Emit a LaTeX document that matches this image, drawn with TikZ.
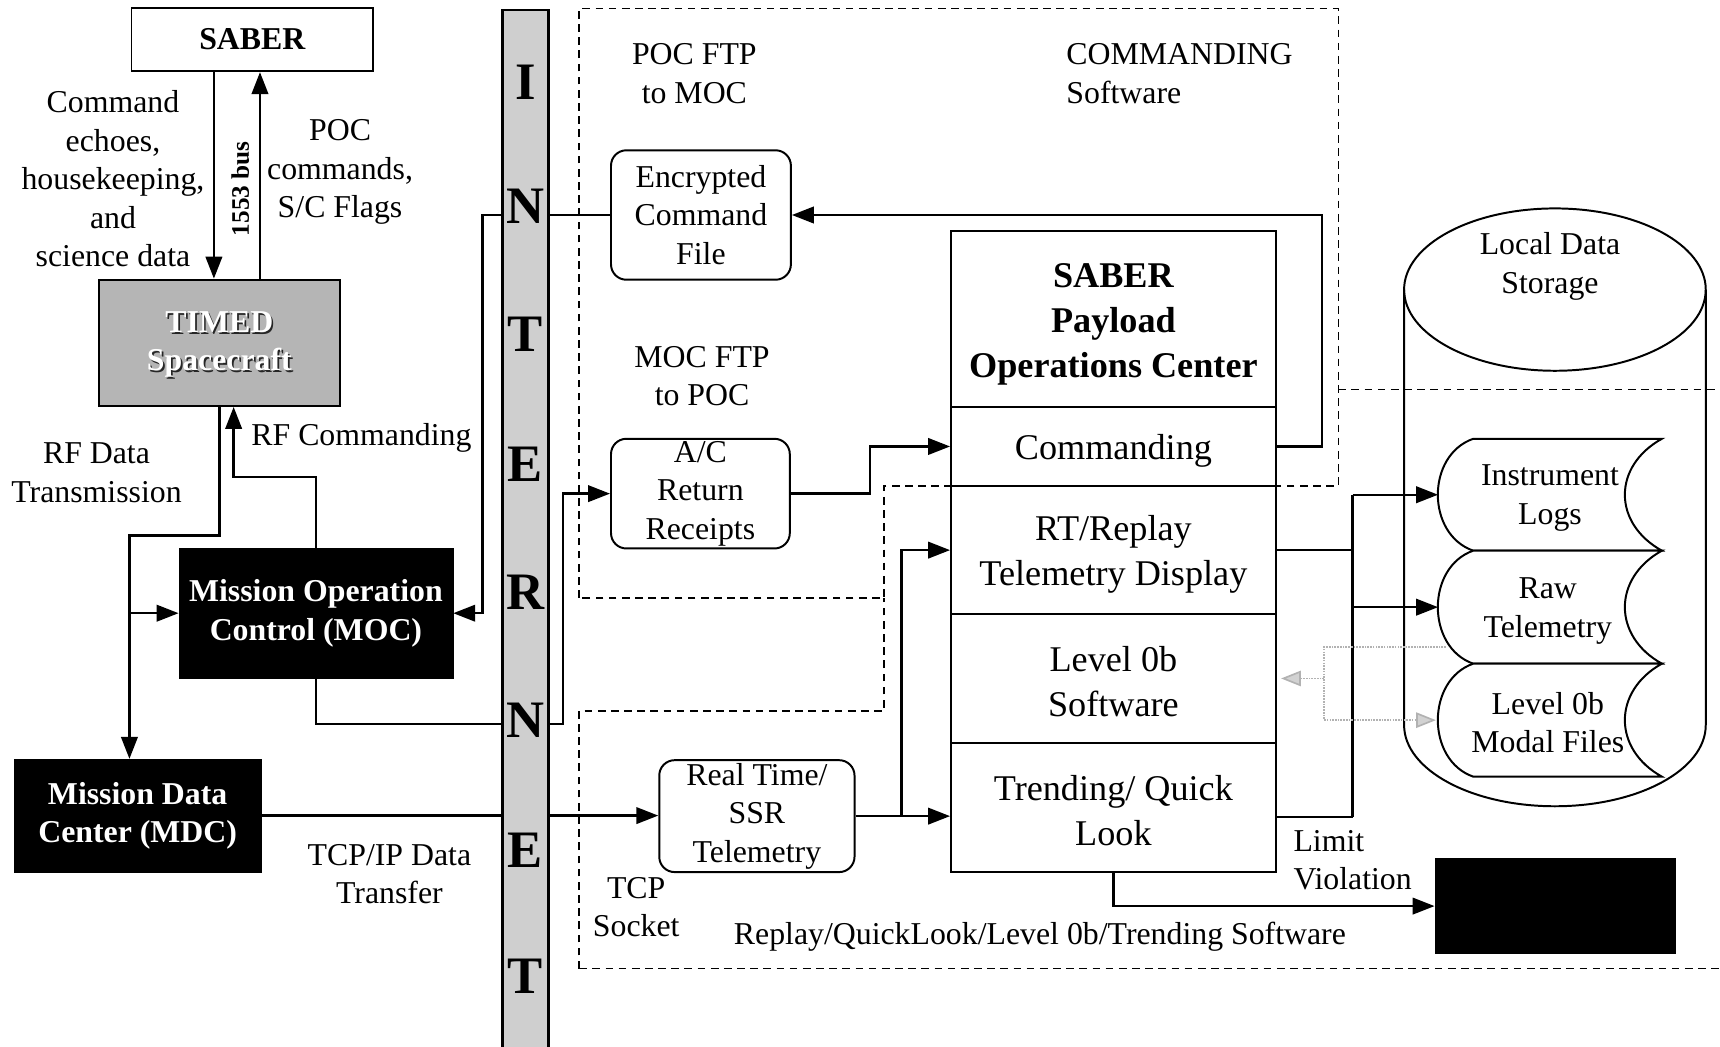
\documentclass[tikz,border=0pt]{standalone}
\usepackage{fontspec}
\setmainfont{Liberation Serif}
\usetikzlibrary{arrows.meta}
\begin{document}
\begin{tikzpicture}[x=1pt,y=-1pt,
  txt/.style={font=\fontsize{29}{35}\selectfont, align=center, inner sep=0pt},
  box/.style={draw, line width=1.5pt, inner sep=0pt},
  blk/.style={draw, fill=black, text=white, inner sep=0pt, font=\bfseries\fontsize{29}{35}\selectfont, align=center},
  rbox/.style={draw, line width=1.8pt, rounded corners=14pt, inner sep=0pt, font=\fontsize{29}{35}\selectfont, align=center},
  sec/.style={draw, line width=1.8pt, inner sep=0pt, minimum width=296pt, font=\fontsize{33}{41}\selectfont, align=center},
  conn/.style={line width=2.2pt},
  arr/.style={line width=2.2pt, -{Triangle[length=20pt,width=15pt]}},
  garr/.style={gray!60, line width=1.5pt, densely dotted, -{Triangle[length=18pt,width=14pt,fill=gray!35]}},
  dbox/.style={line width=1.3pt, dash pattern=on 7pt off 5pt},
  netl/.style={font=\bfseries\fontsize{48}{48}\selectfont, inner sep=0pt},
]
\useasboundingbox (0,0) rectangle (1568,954);

% dashed regions
\draw[dbox] (528,545) -- (528,8) -- (1220,8) -- (1220,443) -- (806,443) -- (806,545) -- cycle;
\draw[dbox] (528,883) -- (528,648) -- (806,648) -- (806,545);
\draw[dbox] (1220,355) -- (1570,355);
\draw[dbox] (528,883) -- (1570,883);

% left side nodes
\node[box, minimum width=220pt, minimum height=58pt, font=\bfseries\fontsize{29}{35}\selectfont] (saber) at (230,36) {SABER};
\node[box, line width=2pt, fill=gray!58, minimum width=220pt, minimum height=115pt] (timed) at (200,312.5) {};
\node[inner sep=0pt, align=center, text=black!85, font=\bfseries\fontsize{29}{35}\selectfont] (timedsh) at (201.5,316) {TIMED\\Spacecraft};
\node[inner sep=0pt, align=center, text=white, font=\bfseries\fontsize{29}{35}\selectfont] (timedtx) at (200,314) {TIMED\\Spacecraft};
\node[blk, minimum width=250pt, minimum height=118pt] (moc) at (288,559) {Mission Operation\\Control (MOC)};
\node[blk, minimum width=225pt, minimum height=103pt] (mdc) at (125.5,743.5) {Mission Data\\Center (MDC)};

\node[txt] (echo) at (103,163) {Command\\echoes,\\housekeeping,\\and\\science data};
\node[txt] (poccmd) at (310,157) {POC\\commands,\\S/C Flags};
\node[inner sep=0pt, rotate=90, font=\bfseries\fontsize{23}{23}\selectfont] (bus) at (219,172) {1553 bus};
\node[txt, anchor=west] (rfcmd) at (229,399) {RF Commanding};
\node[txt] (rfdata) at (88,431) {RF Data\\Transmission};
\node[txt] (tcpip) at (355,797) {TCP/IP Data\\Transfer};

% middle nodes
\node[txt] (pocftp) at (633,67) {POC FTP\\to MOC};
\node[txt, anchor=west, align=left] (commsw) at (972,67) {COMMANDING\\Software};
\node[txt] (mocftp) at (640,343) {MOC FTP\\to POC};
\node[rbox, minimum width=164pt, minimum height=118pt] (ecf) at (639,196) {Encrypted\\Command\\File};
\node[rbox, minimum width=163pt, minimum height=100pt] (acr) at (638.5,450) {A/C\\Return\\Receipts};
\node[rbox, minimum width=178pt, minimum height=102pt] (rts) at (690,744) {Real Time/\\SSR\\Telemetry};
\node[txt] (tcpsock) at (580,827) {TCP\\Socket};
\node[txt] (replaysw) at (948,854) {Replay/QuickLook/Level 0b/Trending Software};

% POC stack
\node[sec, minimum height=160pt] (poc) at (1015,291) {};
\node[inner sep=0pt, align=center, font=\bfseries\fontsize{33}{41}\selectfont] (poctx) at (1015,296) {SABER\\Payload\\Operations Center};
\node[sec, minimum height=72pt] (cmd) at (1015,407) {};
\node[inner sep=0pt, font=\fontsize{33}{41}\selectfont] (cmdtx) at (1015,411) {Commanding};
\node[sec, minimum height=117pt] (rt) at (1015,501.5) {};
\node[inner sep=0pt, align=center, font=\fontsize{33}{41}\selectfont] (rttx) at (1015,505) {RT/Replay\\Telemetry Display};
\node[sec, minimum height=117pt] (l0b) at (1015,618.5) {};
\node[inner sep=0pt, align=center, font=\fontsize{33}{41}\selectfont] (l0btx) at (1015,621) {Level 0b\\Software};
\node[sec, minimum height=118pt] (trend) at (1015,736) {};
\node[inner sep=0pt, align=center, font=\fontsize{33}{41}\selectfont] (trendtx) at (1015,739) {Trending/ Quick\\Look};
\node[txt, anchor=west, align=left] (limit) at (1179,784) {Limit\\Violation};
\node[fill=black, minimum width=220pt, minimum height=88pt, inner sep=0pt] (blkbox) at (1418,826) {};

% cylinder
\draw[line width=1.8pt] (1417.5,264) ellipse [x radius=137.5pt, y radius=74pt];
\draw[line width=1.8pt] (1280,264) -- (1280,661) arc[start angle=180, end angle=360, x radius=137.5pt, y radius=74pt] -- (1555,264);
\node[txt] (local) at (1413,243) {Local Data\\Storage};

% scrolls
\foreach \t/\b in {400/502, 502/605, 605/708} {
  \draw[line width=1.8pt, fill=white] (1343,\t) -- (1515,\t)
    .. controls (1470,\t+25) and (1470,\b-25) .. (1515,\b) -- (1343,\b)
    .. controls (1300,\b-15) and (1300,\t+15) .. (1343,\t) -- cycle;
}
\coordinate (logsL) at (1311,451);
\coordinate (rawL) at (1311,553.5);
\coordinate (modL) at (1309,656.5);
\node[txt] (logs) at (1413,454) {Instrument\\Logs};
\node[txt] (raw) at (1411,557) {Raw\\Telemetry};
\node[txt] (modal) at (1411,659) {Level 0b\\Modal Files};

% connectors
\draw[arr] (195,0 |- saber.south) -- (195,0 |- timed.north);
\draw[arr] (237,0 |- timed.north) -- (237,0 |- saber.south);
\draw[arr] (288,0 |- moc.north) |- (213,435) -- (213,0 |- timed.south);
\draw[arr] (200,0 |- timed.south) |- (118,488) -- (118,0 |- mdc.north);
\draw[arr] (118,0 |- moc.west) -- (moc.west);
\draw[arr] (ecf.west) -| (440,0 |- moc.east) -- (moc.east);
\draw[arr] (288,0 |- moc.south) |- (513,660) |- (acr.west);
\draw[arr] (mdc.east) -- (mdc.east -| rts.west);
\draw[arr] (cmd.east) -| (ecf.east -| 1205,0) -- (ecf.east);
\draw[arr] (acr.east) -- (acr.east -| 793,0) |- (cmd.west);
\draw[arr] (rts.east) -- (rts.east -| 822,0) |- (rt.west);
\draw[arr] (rts.east -| 822,0) -- (rts.east -| trend.west);
\draw[conn] (rt.east) -- (rt.east -| 1233,0);
\draw[conn] (1233,451) -- (1233,745);
\draw[conn] (trend.east |- 0,745) -- (1233,745);
\draw[arr] (1233,0 |- logsL) -- (logsL);
\draw[arr] (1233,0 |- rawL) -- (rawL);
\draw[garr] (1318,590) -| (1207,0 |- modL) -- (modL);
\draw[garr] (1207,0 |- l0b.east) -- ([xshift=4pt]l0b.east);
\draw[arr] (trend.south) |- (blkbox.west);

% internet bar on top
\node[draw, line width=2pt, fill=gray!38, minimum width=42pt, minimum height=950pt, inner sep=0pt, anchor=north] (inet) at (479,8) {};
\node[netl] (n1) at (479,75) {I};
\node[netl] (n2) at (479,188) {N};
\node[netl] (n3) at (479,305) {T};
\node[netl] (n4) at (479,423) {E};
\node[netl] (n5) at (479,540) {R};
\node[netl] (n6) at (479,657) {N};
\node[netl] (n7) at (479,775) {E};
\node[netl] (n8) at (479,890) {T};
\end{tikzpicture}
\end{document}
